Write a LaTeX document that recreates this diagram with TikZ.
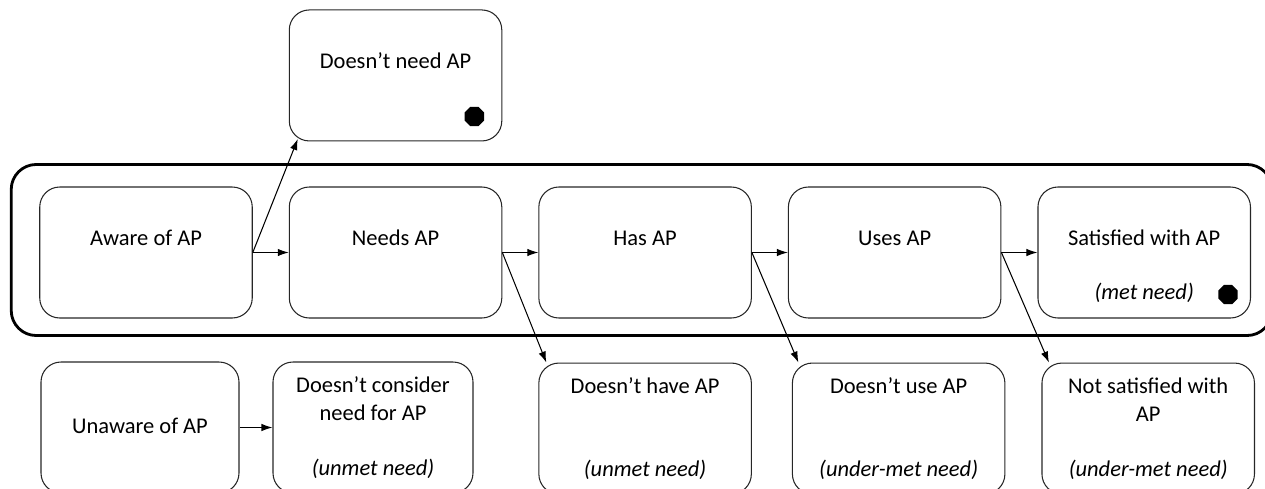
\documentclass[tikz,border=0pt]{standalone}
\usepackage{fontspec}
\setmainfont{Carlito}
\usetikzlibrary{arrows.meta,positioning,calc,shapes.geometric}

\begin{document}
\begin{tikzpicture}[node distance=0.72cm, auto,]
\tikzset{
    %Define standard arrow tip
    >={Latex[length=2.2mm,width=1.5mm]},
    %Define style for stage boxes
    stage/.style={
           rectangle,
           rounded corners=0.4cm,
           draw=black!85, line width=0.6pt,
           minimum width=4.25cm,
           minimum height=2.62cm},
    % Define style for text in the boxes
    txt/.style={
           anchor=base,
           align=center,
           inner sep=0pt,
           font=\fontsize{12.8}{15.9}\selectfont},
    % Define arrow style
    pil/.style={
           ->,
           line width=0.6pt},
    % end marker
    stopp/.style={
           regular polygon,
           regular polygon sides=8,
           fill=black,
           inner sep=0pt,
           minimum size=0.42cm}
}
\useasboundingbox (0,0) rectangle (25.3,-9.78);
 %nodes of the main row
 \node[stage] (aware) at (2.92,-5.05) {};
 \node[stage, right=of aware] (needs) {};
 \node[stage, right=of needs] (has) {};
 \node[stage, right=of has] (uses) {};
 \node[stage, right=of uses] (satisfied) {};
 % box above and boxes below
 \node[stage, above=0.9cm of needs] (noneed) {};
 \node[stage, minimum width=3.96cm] (unaware) at (2.8,-8.55) {};
 \node[stage, minimum width=4cm] (consider) at (7.46,-8.55) {};
 \node[stage, below=0.88cm of has] (nohave) {};
 \node[stage, below=0.88cm of uses, xshift=0.08cm] (nouse) {};
 \node[stage, below=0.88cm of satisfied, xshift=0.08cm] (notsat) {};
 % frame round the main row
 \draw[line width=1.6pt, rounded corners=0.5cm]
   ($(aware.north west)+(-0.56,0.44)$) rectangle ($(satisfied.south east)+(0.42,-0.34)$);
 %texts (base of a two-line text is its last line)
 \node[txt] (t-noneed) at ($(noneed.north)+(0,-1.19)$) {Doesn't need AP};
 \node[txt] (t-aware) at ($(aware.north)+(0,-1.19)$) {Aware of AP};
 \node[txt] (t-needs) at ($(needs.north)+(0,-1.19)$) {Needs AP};
 \node[txt] (t-has) at ($(has.north)+(0,-1.19)$) {Has AP};
 \node[txt] (t-uses) at ($(uses.north)+(0,-1.19)$) {Uses AP};
 \node[txt] (t-satisfied) at ($(satisfied.north)+(0,-1.19)$) {Satisfied with AP};
 \node[txt] (i-satisfied) at ($(satisfied.north)+(0,-2.26)$) {\itshape (met need)};
 \node[txt] (t-unaware) at ($(unaware.north)+(0,-1.44)$) {Unaware of AP};
 \node[txt] (t-consider) at ($(consider.north)+(0,-1.18)$) {Doesn't consider\\need for AP};
 \node[txt] (i-consider) at ($(consider.north)+(0,-2.28)$) {\itshape (unmet need)};
 \node[txt] (t-nohave) at ($(nohave.north)+(0,-0.62)$) {Doesn't have AP};
 \node[txt] (i-nohave) at ($(nohave.north)+(0,-2.28)$) {\itshape (unmet need)};
 \node[txt] (t-nouse) at ($(nouse.north)+(0,-0.62)$) {Doesn't use AP};
 \node[txt] (i-nouse) at ($(nouse.north)+(0,-2.28)$) {\itshape (under-met need)};
 \node[txt] (t-notsat) at ($(notsat.north)+(0,-1.18)$) {Not satisfied with\\AP};
 \node[txt] (i-notsat) at ($(notsat.north)+(0,-2.28)$) {\itshape (under-met need)};
 % end markers
 \node[stopp] (stop1) at ($(noneed.south east)+(-0.56,0.5)$) {};
 \node[stopp] (stop2) at ($(satisfied.south east)+(-0.46,0.48)$) {};
 %arrows
 \draw[pil] (aware.east) -- (needs.west);
 \draw[pil] (aware.east) -- ($(noneed.south west)+(0.18,0.05)$);
 \draw[pil] (needs.east) -- (has.west);
 \draw[pil] (needs.east) -- ($(nohave.north west)+(0.16,0)$);
 \draw[pil] (has.east) -- (uses.west);
 \draw[pil] (has.east) -- ($(nouse.north west)+(0.13,0)$);
 \draw[pil] (uses.east) -- (satisfied.west);
 \draw[pil] (uses.east) -- ($(notsat.north west)+(0.15,0)$);
 \draw[pil] (unaware.east) -- (consider.west);
\end{tikzpicture}
\end{document}
